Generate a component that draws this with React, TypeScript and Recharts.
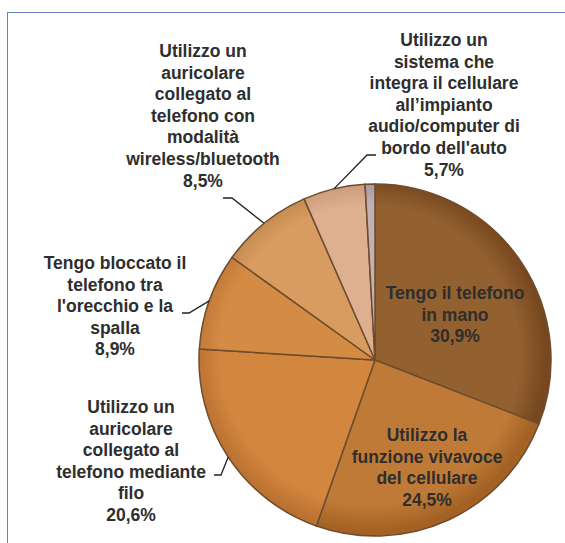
import { PieChart, Pie, Cell } from "recharts";

// survey answers, clockwise from 12 o'clock
const categories = [
  "Tengo il telefono\nin mano",
  "Utilizzo la\nfunzione vivavoce\ndel cellulare",
  "Utilizzo un\nauricolare\ncollegato al\ntelefono mediante\nfilo",
  "Tengo bloccato il\ntelefono tra\nl'orecchio e la\nspalla",
  "Utilizzo un\nauricolare\ncollegato al\ntelefono con\nmodalità\nwireless/bluetooth",
  "Utilizzo un\nsistema che\nintegra il cellulare\nall\u2019impianto\naudio/computer di\nbordo dell'auto",
  "Altro",
];
const values = [30.9, 24.5, 20.6, 8.9, 8.5, 5.7, 0.9];
const valueLabels = ["30,9%", "24,5%", "20,6%", "8,9%", "8,5%", "5,7%", ""];

const colors = ["#93602f", "#c07a37", "#d2863e", "#d48b44", "#d89c60", "#deb090", "#c2b2b6"];
const edgeColors = ["#77481f", "#a36224", "#b97030", "#bc7636", "#c0864e", "#c89878", "#a49498"];

// label placement relative to the pie centre
const layout = [
  { x: 80, y: -67 },
  { x: 52, y: 75 },
  { x: -244, y: 47, elbow: [-154, 115], end: [-161, 115] },
  { x: -260, y: -97, elbow: [-186, -47], end: [-193, -47] },
  { x: -172, y: -309, elbow: [-143, -162], end: [-152, -162] },
  { x: 69, y: -320, elbow: [-8, -205], end: [1, -205] },
];

const data = values.map((v, i) => ({ name: categories[i], value: v }));

const CX = 370;
const CY = 355;
const R = 176;
const LINE_H = 21.6;
const RAD = Math.PI / 180;

function renderLabel(props: any) {
  const { cx, cy, midAngle, outerRadius, index } = props;
  const pos = layout[index];
  if (!pos) return null;
  const lines = [...categories[index].split("\n"), valueLabels[index]];
  let leader = null;
  if (pos.elbow) {
    const ex = cx + outerRadius * Math.cos(-midAngle * RAD);
    const ey = cy + outerRadius * Math.sin(-midAngle * RAD);
    leader = (
      <polyline
        points={`${ex},${ey} ${cx + pos.elbow[0]},${cy + pos.elbow[1]} ${cx + pos.end[0]},${cy + pos.end[1]}`}
        fill="none"
        stroke="#222"
        strokeWidth={1.3}
      />
    );
  }
  return (
    <g key={`lbl-${index}`}>
      {leader}
      <text
        x={cx + pos.x}
        y={cy + pos.y}
        textAnchor="middle"
        fill="#2e2e2e"
        fontSize={17.5}
        fontWeight="bold"
        fontFamily="'Liberation Sans', Arial, sans-serif"
      >
        {lines.map((l, k) => (
          <tspan key={k} x={cx + pos.x} y={cy + pos.y + k * LINE_H} dominantBaseline="central">
            {l}
          </tspan>
        ))}
      </text>
    </g>
  );
}

export default function App() {
  return (
    <div style={{ position: "fixed", left: 0, top: 0, width: 565, height: 543, overflow: "hidden", background: "#fff" }}>
      <svg width={0} height={0} style={{ position: "absolute" }}>
        <defs>
          {colors.map((c, i) => (
            <radialGradient key={i} id={`slice${i}`} gradientUnits="userSpaceOnUse" cx={CX} cy={CY} r={R}>
              <stop offset="0%" stopColor={c} />
              <stop offset="85%" stopColor={c} />
              <stop offset="100%" stopColor={edgeColors[i]} />
            </radialGradient>
          ))}
        </defs>
      </svg>
      <div
        style={{
          position: "absolute",
          left: 7,
          top: 12,
          width: 700,
          height: 700,
          border: "1.6px solid #6b7fc4",
        }}
      />
      <div style={{ position: "absolute", left: 0, top: 0 }}>
        <PieChart width={565} height={543}>
          <Pie
            data={data}
            dataKey="value"
            cx={CX}
            cy={CY}
            outerRadius={R}
            startAngle={90}
            endAngle={-270}
            stroke="#6e4c2e"
            strokeWidth={1.5}
            label={renderLabel}
            labelLine={false}
            isAnimationActive={false}
          >
            {data.map((d, i) => (
              <Cell key={d.name} fill={`url(#slice${i})`} />
            ))}
          </Pie>
        </PieChart>
      </div>
    </div>
  );
}
